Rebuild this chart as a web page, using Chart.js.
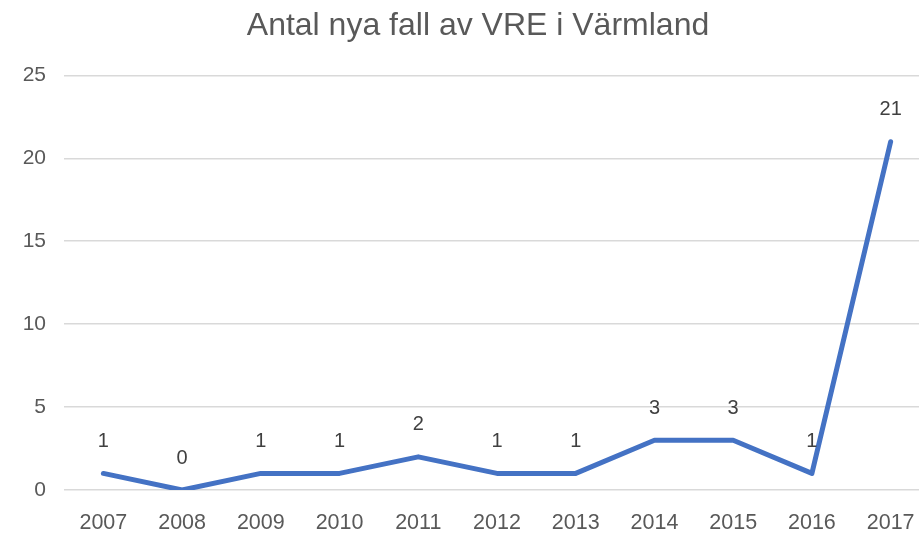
<!DOCTYPE html>
<html>
<head>
<meta charset="utf-8">
<script src="https://cdn.jsdelivr.net/npm/chart.js@4.4.1/dist/chart.umd.min.js"></script>
<style>
  html, body { margin: 0; padding: 0; background: #fff; overflow: hidden; }
  #wrap { width: 919px; height: 535px; overflow: hidden; }
</style>
</head>
<body>
<div id="wrap"><canvas id="vreChart" width="956" height="535"></canvas></div>
<script>
const years = ['2007', '2008', '2009', '2010', '2011', '2012', '2013', '2014', '2015', '2016', '2017'];
const cases = [1, 0, 1, 1, 2, 1, 1, 3, 3, 1, 21];
const yTicks = [0, 5, 10, 15, 20, 25];
const chartTitle = 'Antal nya fall av VRE i Värmland';

const fontFamily = '"Liberation Sans", Arial, sans-serif';

// writes the value above every point
const valueLabels = {
    id: 'valueLabels',
    afterDatasetsDraw: function (chart) {
        const ctx = chart.ctx;
        const meta = chart.getDatasetMeta(0);
        ctx.save();
        ctx.font = '20px ' + fontFamily;
        ctx.fillStyle = '#404040';
        ctx.textAlign = 'center';
        ctx.textBaseline = 'middle';
        meta.data.forEach(function (pt, i) {
            ctx.fillText(String(cases[i]), pt.x, pt.y - 32);
        });
        ctx.restore();
    }
};

const ctx = document.getElementById('vreChart');

new Chart(ctx, {
    type: 'line',
    data: {
        labels: years,
        datasets: [{
            label: 'Antal',
            data: cases,
            borderColor: '#4472C4',
            backgroundColor: '#4472C4',
            borderWidth: 5,
            borderCapStyle: 'round',
            borderJoinStyle: 'round',
            pointRadius: 0,
            tension: 0,
            fill: false
        }]
    },
    options: {
        responsive: false,
        animation: false,
        layout: { padding: 0 },
        plugins: {
            legend: { display: false },
            tooltip: { enabled: false },
            title: {
                display: true,
                text: chartTitle,
                color: '#595959',
                font: { family: fontFamily, size: 32, weight: 'normal' },
                padding: { top: 7, bottom: 30 }
            }
        },
        scales: {
            x: {
                offset: true,
                grid: { display: false, drawTicks: false },
                border: { display: false },
                ticks: {
                    color: '#595959',
                    font: { family: fontFamily, size: 21.5 },
                    padding: 20,
                    maxRotation: 0,
                    autoSkip: false
                },
                afterFit: function (scale) { scale.height = 45; }
            },
            y: {
                min: 0,
                max: 25,
                afterBuildTicks: function (scale) {
                    scale.ticks = yTicks.map(function (v) { return { value: v }; });
                },
                grid: { color: '#d9d9d9', lineWidth: 1.5, drawTicks: false },
                border: { display: false },
                ticks: {
                    color: '#595959',
                    font: { family: fontFamily, size: 21 },
                    padding: 18
                },
                afterFit: function (scale) { scale.width = 64; }
            },
            yRight: {
                position: 'right',
                display: true,
                grid: { display: false, drawTicks: false },
                border: { display: false },
                ticks: { display: false },
                afterFit: function (scale) { scale.width = 26; }
            }
        }
    },
    plugins: [valueLabels]
});
</script>
</body>
</html>
